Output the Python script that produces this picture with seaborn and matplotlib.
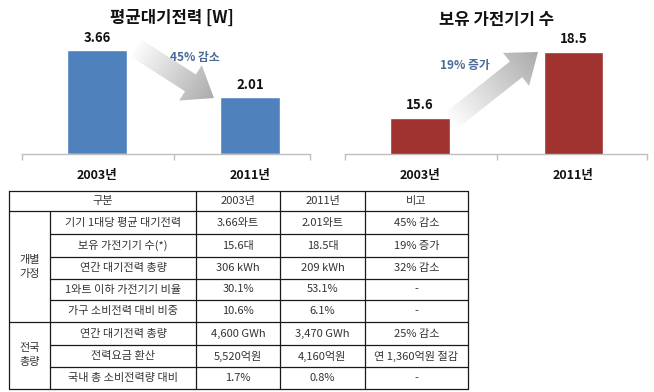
import numpy as np
import pandas as pd
import matplotlib
matplotlib.use("Agg")
import matplotlib.pyplot as plt
import seaborn as sns
from matplotlib.patches import FancyArrow

# ---- data ----
years = ["2003년", "2011년"]
standby_power = [3.66, 2.01]
appliance_count = [15.6, 18.5]
power_title = "평균대기전력 [W]"
count_title = "보유 가전기기 수"
power_note = "45% 감소"
count_note = "19% 증가"

table_header = ["구분", "2003년", "2011년", "비고"]
groups = ["개별\n가정", "전국\n총량"]
group_sizes = [5, 3]
items = ["기기 1대당 평균 대기전력", "보유 가전기기 수(*)", "연간 대기전력 총량",
         "1와트 이하 가전기기 비율", "가구 소비전력 대비 비중",
         "연간 대기전력 총량", "전력요금 환산", "국내 총 소비전력량 대비"]
values_2003 = ["3.66와트", "15.6대", "306 kWh", "30.1%", "10.6%",
               "4,600 GWh", "5,520억원", "1.7%"]
values_2011 = ["2.01와트", "18.5대", "209 kWh", "53.1%", "6.1%",
               "3,470 GWh", "4,160억원", "0.8%"]
remarks = ["45% 감소", "19% 증가", "32% 감소", "-", "-",
           "25% 감소", "연 1,360억원 절감", "-"]

sns.set_theme(style="white")
plt.rcParams["font.family"] = ["Noto Sans CJK KR", "DejaVu Sans"]

W, H = 654, 392
fig = plt.figure(figsize=(6.54, 3.92), dpi=100)
fig.patch.set_facecolor("white")


def px_axes(x0, y0, x1, y1):
    return fig.add_axes([x0 / W, 1 - y1 / H, (x1 - x0) / W, (y1 - y0) / H])


# overlay axes in pixel coordinates (arrows, titles, table)
bg = px_axes(0, 0, W, H)
bg.set_xlim(0, W)
bg.set_ylim(H, 0)
bg.axis("off")


def gradient_arrow(ax, tail, tip, width, head_width, head_length):
    dx, dy = tip[0] - tail[0], tip[1] - tail[1]
    arrow = FancyArrow(tail[0], tail[1], dx, dy, width=width, head_width=head_width,
                       head_length=head_length, length_includes_head=True,
                       facecolor="none", edgecolor="none")
    ax.add_patch(arrow)
    x0, x1 = min(tail[0], tip[0]) - head_width, max(tail[0], tip[0]) + head_width
    y0, y1 = min(tail[1], tip[1]) - head_width, max(tail[1], tip[1]) + head_width
    xs = np.linspace(x0, x1, 200)
    ys = np.linspace(y0, y1, 200)
    gx, gy = np.meshgrid(xs, ys)
    L = np.hypot(dx, dy)
    t = ((gx - tail[0]) * dx + (gy - tail[1]) * dy) / (L * L)
    t = np.clip(t, 0, 1)
    shade = 0.99 - 0.32 * t
    img = np.dstack([shade, shade, shade, np.ones_like(shade)])
    im = ax.imshow(img, extent=(x0, x1, y1, y0), origin="upper", aspect="auto",
                   interpolation="bilinear", zorder=1)
    im.set_clip_path(arrow)


gradient_arrow(bg, (136, 48), (214, 98), 20, 42, 28)
gradient_arrow(bg, (452, 120), (538, 52), 20, 42, 28)
bg.set_xlim(0, W)
bg.set_ylim(H, 0)

note_color = "#4a6b96"
bg.text(195, 57, power_note, ha="center", va="center", fontsize=8.5,
        fontweight="bold", color=note_color)
bg.text(465, 65, count_note, ha="center", va="center", fontsize=8.5,
        fontweight="bold", color=note_color)
bg.text(172, 18, power_title, ha="center", va="center", fontsize=12,
        fontweight="bold", color="#111111")
bg.text(497, 20, count_title, ha="center", va="center", fontsize=12,
        fontweight="bold", color="#111111")


def bar_panel(ax, values, color, xlim, ylim):
    df = pd.DataFrame({"year": years, "value": values})
    sns.barplot(data=df, x="year", y="value", color=color, saturation=1,
                width=0.39, ax=ax)
    ax.set_xlim(*xlim)
    ax.set_ylim(*ylim)
    ax.patch.set_alpha(0)
    for c in ax.containers:
        ax.bar_label(c, labels=[str(v) for v in values], padding=4,
                     fontsize=9.5, fontweight="bold", color="#111111")
    for s in ["left", "top", "right"]:
        ax.spines[s].set_visible(False)
    ax.spines["bottom"].set_color("#bfbfbf")
    ax.spines["bottom"].set_linewidth(1)
    ax.set_yticks([])
    ax.set_xlabel("")
    ax.set_ylabel("")
    ax.tick_params(axis="x", length=0, pad=11, labelsize=9)
    for lbl in ax.get_xticklabels():
        lbl.set_fontweight("bold")
        lbl.set_color("#111111")
    ax.set_xticks([xlim[0], 0.5, xlim[1]], minor=True)
    ax.tick_params(axis="x", which="minor", length=4, color="#bfbfbf",
                   width=1, bottom=True)


ax1 = px_axes(22, 30, 310, 154)
bar_panel(ax1, standby_power, "#4f81bd", (-0.49, 1.39), (0, 4.38))
ax2 = px_axes(345, 30, 647, 154)
bar_panel(ax2, appliance_count, "#a0322f", (-0.49, 1.48), (14.0, 19.45))

# ---- table ----
col_edges = [9, 50, 196, 280, 365, 468]
row_edges = [191, 211, 234, 257, 279, 300, 322, 345, 367, 389]
line_kw = dict(color="#1a1a1a", lw=0.9, zorder=3)
text_kw = dict(ha="center", va="center", fontsize=8, color="#333333", zorder=3)

group_bounds = [0]
for n in group_sizes:
    group_bounds.append(group_bounds[-1] + n)

# horizontal lines
bg.plot([col_edges[0], col_edges[-1]], [row_edges[0]] * 2, **line_kw)
for i, y in enumerate(row_edges[1:]):
    x_start = col_edges[0] if i in group_bounds else col_edges[1]
    bg.plot([x_start, col_edges[-1]], [y, y], **line_kw)
# vertical lines
for j, x in enumerate(col_edges):
    y_start = row_edges[1] if j == 1 else row_edges[0]
    bg.plot([x, x], [y_start, row_edges[-1]], **line_kw)

# header
bg.text((col_edges[0] + col_edges[2]) / 2, (row_edges[0] + row_edges[1]) / 2,
        table_header[0], **text_kw)
for k in range(1, 4):
    bg.text((col_edges[k + 1] + col_edges[k + 2]) / 2,
            (row_edges[0] + row_edges[1]) / 2, table_header[k], **text_kw)

# groups
for g, name in enumerate(groups):
    top = row_edges[1 + group_bounds[g]]
    bottom = row_edges[1 + group_bounds[g + 1]]
    bg.text((col_edges[0] + col_edges[1]) / 2, (top + bottom) / 2, name,
            linespacing=1.5, **text_kw)

# body rows
for r in range(len(items)):
    yc = (row_edges[r + 1] + row_edges[r + 2]) / 2
    for k, col in enumerate([items, values_2003, values_2011, remarks]):
        bg.text((col_edges[k + 1] + col_edges[k + 2]) / 2, yc, col[r], **text_kw)

fig.savefig("out.png", dpi=100, facecolor="white")
